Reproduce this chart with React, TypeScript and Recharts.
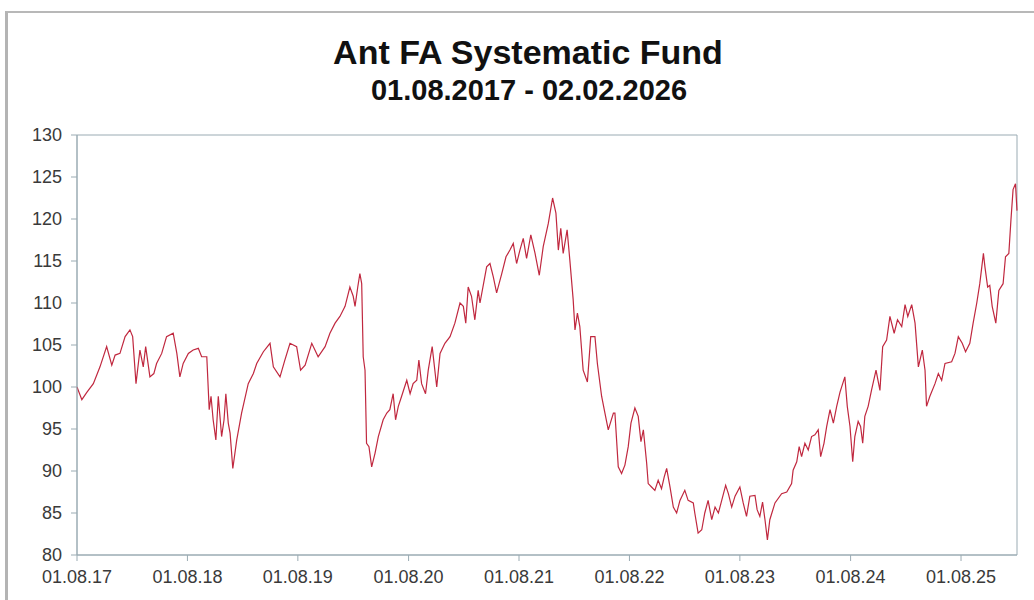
import React from "react"
import { LineChart, Line, XAxis, YAxis, ReferenceArea } from "recharts"

// days since 01.08.2017
const days = [
  0, 16, 33, 54, 76, 98, 115, 126, 142, 159, 175, 184, 195, 208, 219, 227, 241, 254, 263, 280,
  296, 318, 330, 340, 351, 368, 384, 401, 412, 429, 437, 443, 450, 459, 467, 478, 486, 492, 500, 506,
  515, 528, 544, 566, 583, 594, 616, 638, 649, 671, 687, 704, 726, 739, 754, 776, 797, 820, 836, 853,
  869, 886, 902, 913, 919, 928, 935, 941, 946, 952, 957, 965, 974, 985, 996, 1012, 1024, 1034, 1045, 1053,
  1062, 1073, 1090, 1101, 1111, 1123, 1130, 1139, 1152, 1161, 1174, 1189, 1200, 1216, 1233, 1249, 1266, 1277, 1285, 1293,
  1304, 1315, 1326, 1332, 1354, 1365, 1376, 1387, 1404, 1418, 1431, 1442, 1453, 1464, 1475, 1486, 1500, 1514, 1528, 1541,
  1558, 1572, 1583, 1591, 1599, 1607, 1620, 1629, 1640, 1646, 1654, 1662, 1673, 1687, 1698, 1712, 1720, 1734, 1745, 1756,
  1773, 1778, 1789, 1800, 1811, 1822, 1831, 1844, 1855, 1864, 1872, 1883, 1888, 1899, 1910, 1921, 1932, 1941, 1949, 1960,
  1971, 1982, 1993, 2009, 2020, 2037, 2042, 2053, 2065, 2075, 2086, 2098, 2109, 2120, 2131, 2144, 2153, 2164, 2175, 2191,
  2202, 2213, 2224, 2241, 2248, 2257, 2266, 2274, 2282, 2290, 2307, 2329, 2346, 2362, 2367, 2379, 2387, 2395, 2406, 2417,
  2428, 2439, 2450, 2458, 2469, 2478, 2489, 2500, 2511, 2522, 2538, 2546, 2555, 2564, 2571, 2582, 2590, 2597, 2604, 2615,
  2626, 2641, 2654, 2663, 2676, 2687, 2701, 2712, 2726, 2737, 2746, 2759, 2770, 2781, 2794, 2803, 2808, 2819, 2836, 2847,
  2858, 2869, 2891, 2902, 2913, 2926, 2937, 2951, 2962, 2974, 2984, 2996, 3001, 3010, 3017, 3025, 3037, 3047, 3061, 3069,
  3080, 3087, 3094, 3102, 3107,
]

const values = [
  100.0, 98.5, 99.4, 100.4, 102.4, 104.8, 102.6, 103.8, 104.0, 106.0, 106.8, 106.0, 100.4, 104.4, 102.4, 104.8, 101.2, 101.6, 102.8, 104.0,
  106.0, 106.4, 104.0, 101.2, 102.8, 104.0, 104.4, 104.6, 103.6, 103.6, 97.3, 98.9, 96.1, 93.7, 98.9, 94.1, 96.1, 99.2, 95.7, 94.5,
  90.3, 93.7, 96.9, 100.4, 101.6, 102.8, 104.2, 105.2, 102.4, 101.2, 103.2, 105.2, 104.8, 102.0, 102.6, 105.2, 103.6, 104.8, 106.4, 107.6,
  108.4, 109.6, 111.9, 110.8, 109.6, 111.9, 113.5, 112.3, 103.6, 102.0, 93.3, 92.9, 90.5, 92.1, 94.1, 96.1, 96.9, 97.3, 99.2, 96.1,
  97.7, 98.9, 100.8, 99.2, 100.4, 100.8, 103.2, 100.4, 99.2, 102.0, 104.8, 100.0, 104.0, 105.2, 106.0, 107.6, 110.0, 109.6, 107.6, 111.9,
  110.8, 108.0, 111.5, 110.0, 114.3, 114.7, 113.1, 111.2, 113.5, 115.5, 116.3, 117.1, 114.7, 116.3, 117.7, 115.3, 118.1, 115.9, 113.3, 116.7,
  119.5, 122.5, 120.7, 116.3, 118.9, 115.9, 118.7, 115.1, 110.4, 106.8, 108.8, 107.2, 102.0, 100.6, 106.0, 106.0, 102.8, 98.9, 96.9, 94.9,
  96.9, 96.9, 90.5, 89.7, 90.7, 92.9, 95.7, 97.5, 96.5, 93.5, 94.9, 90.9, 88.5, 88.1, 87.7, 88.9, 87.9, 89.3, 90.3, 88.1,
  85.7, 85.0, 86.5, 87.7, 86.5, 86.2, 85.0, 82.6, 83.0, 85.0, 86.5, 84.2, 85.7, 85.0, 86.5, 88.3, 87.3, 85.7, 87.0, 88.1,
  86.2, 84.6, 87.0, 87.1, 85.4, 84.6, 86.3, 84.2, 81.8, 84.2, 86.2, 87.3, 87.5, 88.5, 90.1, 91.1, 92.9, 91.7, 93.3, 92.5,
  94.1, 94.3, 94.9, 91.7, 93.3, 95.3, 97.3, 95.7, 97.7, 99.4, 101.2, 97.7, 95.3, 91.1, 94.1, 95.9, 95.3, 93.3, 96.5, 97.7,
  99.6, 102.0, 99.6, 104.8, 105.6, 108.4, 106.4, 108.0, 107.2, 109.8, 108.4, 109.8, 107.6, 102.4, 104.4, 102.0, 97.7, 98.9, 100.4, 101.6,
  100.8, 102.8, 103.0, 104.0, 106.0, 105.2, 104.2, 105.2, 107.6, 110.0, 112.3, 115.9, 114.3, 111.9, 112.1, 109.6, 107.6, 111.5, 112.3, 115.5,
  115.9, 119.9, 123.5, 124.2, 121.0,
]

const xTicks = [0, 365, 730, 1096, 1461, 1826, 2191, 2557, 2922]
const xTickLabels = ["01.08.17", "01.08.18", "01.08.19", "01.08.20", "01.08.21", "01.08.22", "01.08.23", "01.08.24", "01.08.25"]
const yTicks = [80, 85, 90, 95, 100, 105, 110, 115, 120, 125, 130]

const data = days.map((d, i) => ({ day: d, value: values[i] }))

const font = '"Liberation Sans", Arial, sans-serif'
const axisColor = "#9aabb3"

export default function App() {
  return (
    <div style={{ position: "absolute", left: 0, top: 0, width: 1034, height: 600, overflow: "hidden", background: "#fff", fontFamily: font }}>
      <div style={{ position: "absolute", left: 5, top: 11, width: 1100, height: 700, borderTop: "2px solid #b8b8b8", borderLeft: "3px solid #b4b4b4" }} />
      <div style={{ position: "absolute", left: 0, width: 1056, top: 35, textAlign: "center", fontSize: 34, fontWeight: "bold", color: "#111", lineHeight: "34px" }}>
        Ant FA Systematic Fund
      </div>
      <div style={{ position: "absolute", left: 0, width: 1058, top: 76, textAlign: "center", fontSize: 29, fontWeight: "bold", color: "#111", lineHeight: "29px" }}>
        01.08.2017 - 02.02.2026
      </div>
      <div style={{ position: "absolute", left: 0, top: 0 }}>
        <LineChart width={1034} height={600} data={data} margin={{ top: 135, right: 17, bottom: 0, left: 0 }}>
          <XAxis
            dataKey="day"
            type="number"
            domain={[0, 3107]}
            ticks={xTicks}
            tickFormatter={(v: number) => xTickLabels[xTicks.indexOf(v)] ?? ""}
            height={45}
            tickSize={6}
            tickMargin={9}
            stroke={axisColor}
            tick={{ fill: "#3a3a3a", fontSize: 18, fontFamily: font }}
          />
          <YAxis
            type="number"
            domain={[80, 130]}
            ticks={yTicks}
            width={77}
            tickSize={6}
            tickMargin={9}
            stroke={axisColor}
            tick={{ fill: "#3a3a3a", fontSize: 18, fontFamily: font }}
          />
          <ReferenceArea x1={0} x2={3107} y1={80} y2={130} fill="none" stroke={axisColor} strokeWidth={1} />
          <Line type="linear" dataKey="value" stroke="#c0283f" strokeWidth={1.2} dot={false} isAnimationActive={false} />
        </LineChart>
      </div>
    </div>
  )
}
